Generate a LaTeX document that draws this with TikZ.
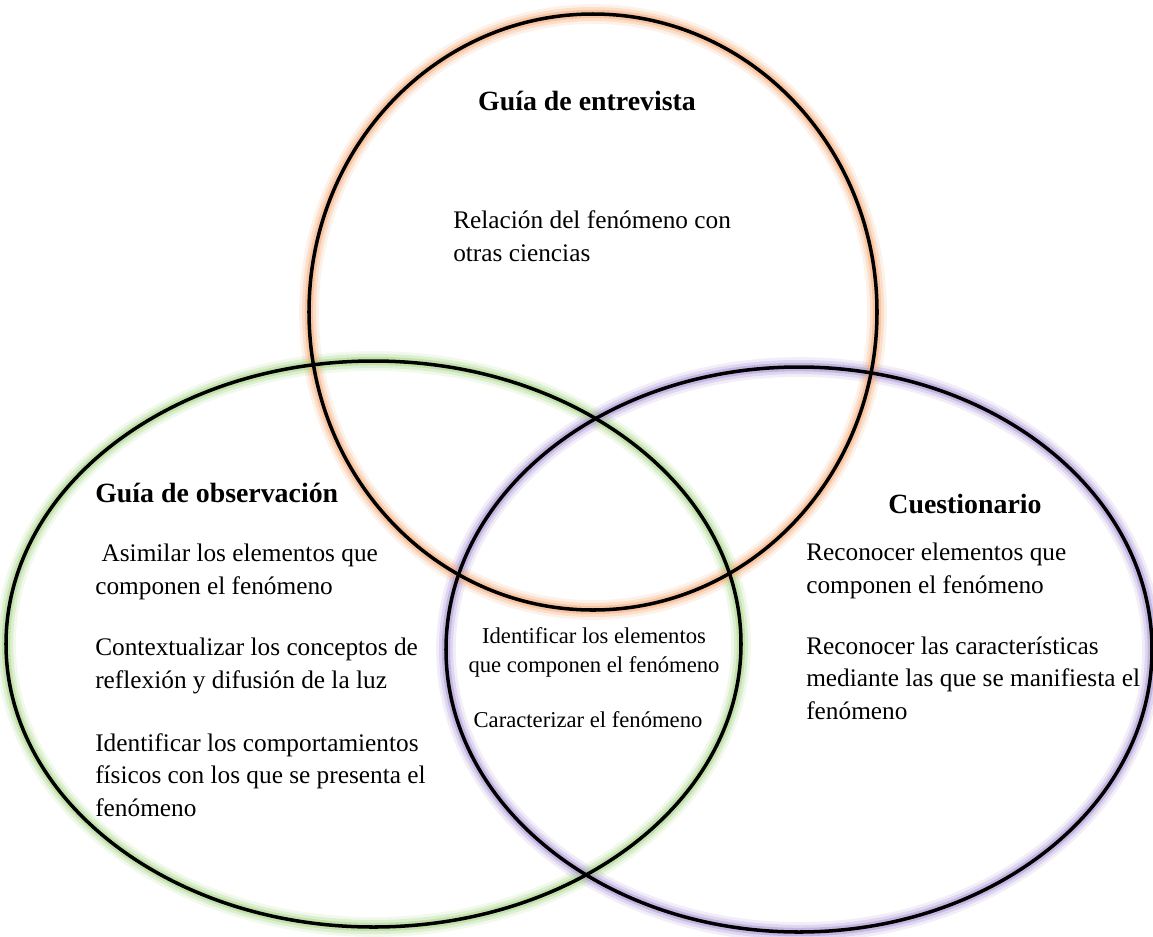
\documentclass[tikz,border=0pt]{standalone}
\usepackage{fontspec}
\setmainfont{Liberation Serif}
\definecolor{glowgreen}{RGB}{160,210,125}
\definecolor{gloworange}{RGB}{244,165,110}
\definecolor{glowpurple}{RGB}{165,140,210}
\begin{document}
\begin{tikzpicture}[x=0.025cm,y=-0.025cm,
	ring/.style={line width=2.5pt,black},
	head/.style={font=\fontsize{19.8}{24}\selectfont\bfseries,inner sep=0pt,anchor=base},
	item/.style={font=\fontsize{18}{23.1}\selectfont,align=left,inner sep=0pt,anchor=base west},
	small/.style={font=\fontsize{16.1}{20.6}\selectfont,align=center,inner sep=0pt,anchor=base}]
		\useasboundingbox (0,0) rectangle (1153,936);
		
		% soft glow round the three rings
		\foreach \w/\o in {14/0.15,10/0.25,6/0.45}{
			\draw[glowgreen,line width=\w pt,opacity=\o] (373.5,644) ellipse [x radius=367.5,y radius=283];
			\draw[glowpurple,line width=\w pt,opacity=\o] (799,649.5) ellipse [x radius=353,y radius=282.5];
			\draw[gloworange,line width=\w pt,opacity=\o] (593,312) ellipse [x radius=284,y radius=298];
		}
		
		% rings
		\draw[ring] (373.5,644) ellipse [x radius=367.5,y radius=283];
		\draw[ring] (799,649.5) ellipse [x radius=353,y radius=282.5];
		\draw[ring] (593,312) ellipse [x radius=284,y radius=298];
		
		% interview guide (base = last line)
		\node[head] (entT) at (587,110) {Guía de entrevista};
		\node[item] (ent1) at (453,261) {Relación del fenómeno con\\otras ciencias};
		
		% observation guide
		\node[head,anchor=base west] (obsT) at (95,502) {Guía de observación};
		\node[item] (obs1) at (95,594) {\ Asimilar los elementos que\\componen el fenómeno};
		\node[item] (obs2) at (95,688) {Contextualizar los conceptos de\\reflexión y difusión de la luz};
		\node[item] (obs3) at (95,816) {Identificar los comportamientos\\físicos con los que se presenta el\\fenómeno};
		
		% shared part
		\node[small] (cen1) at (594,672) {Identificar los elementos\\que componen el fenómeno};
		\node[small] (cen2) at (588,727) {Caracterizar el fenómeno};
		
		% questionnaire
		\node[head] (cueT) at (965,513) {Cuestionario};
		\node[item] (cue1) at (806,593) {Reconocer elementos que\\componen el fenómeno};
		\node[item] (cue2) at (806,719) {Reconocer las características\\mediante las que se manifiesta el\\fenómeno};
	\end{tikzpicture}
\end{document}
